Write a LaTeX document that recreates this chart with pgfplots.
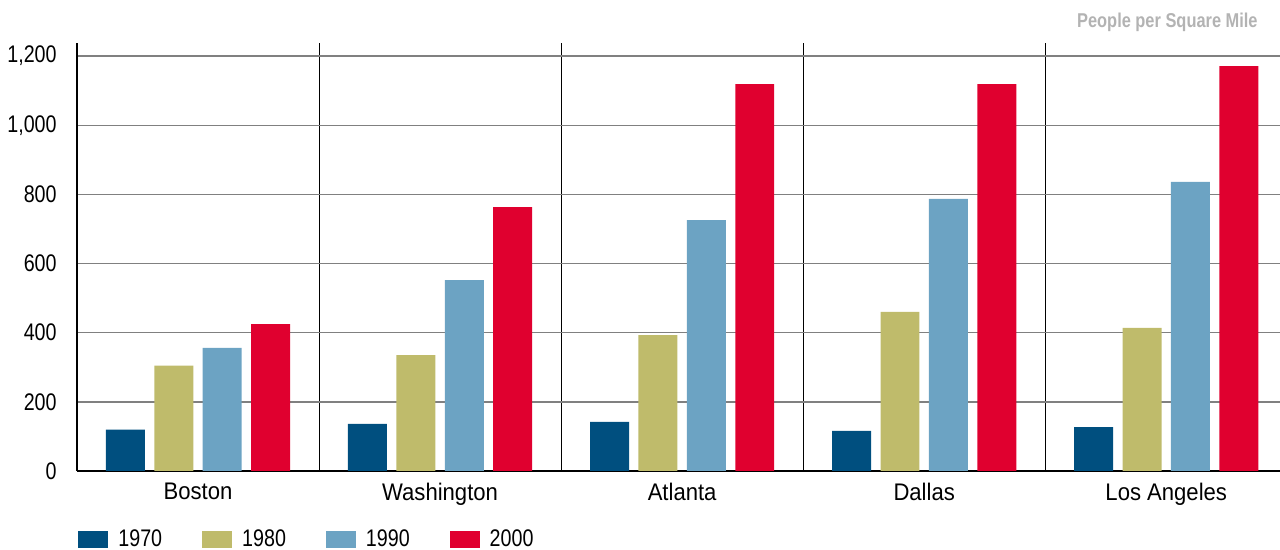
\documentclass[border=0pt]{standalone}
\usepackage{fontspec}
\setmainfont[FakeStretch=0.82]{Liberation Sans}
\newfontfamily\catfont[FakeStretch=0.92]{Liberation Sans}
\usepackage{pgfplots}
\usepackage{pgfplotstable}
\pgfplotsset{compat=1.18}

\definecolor{c1970}{HTML}{004F7F}
\definecolor{c1980}{HTML}{BFBB6B}
\definecolor{c1990}{HTML}{6CA3C3}
\definecolor{c2000}{HTML}{E0002F}
\definecolor{titlegray}{HTML}{B3B3B3}
\definecolor{gridgray}{HTML}{808080}

% population density, people per square mile
\pgfplotstableread{
x y1970 y1980 y1990 y2000
0 120 305 356 425
1 136 335 552 763
2 142 393 726 1119
3 116 460 787 1119
4 127 414 836 1171
}\densitytable

\begin{document}
\begin{tikzpicture}
	\begin{axis}[
		scale only axis,
		width=601.5pt, height=214pt,
		xmin=-0.5, xmax=4.47,
		ymin=0, ymax=1238,
		clip=false,
		axis x line*=bottom, axis y line*=left,
		axis line style={-, black, line width=1pt},
		xtick={0,...,4},
		xticklabels={Boston,Washington,Atlanta,Dallas,Los Angeles},
		minor xtick={0.5,1.5,2.5,3.5},
		xminorgrids,
		minor grid style={black, line width=0.5pt},
		ytick={0,200,...,1200},
		ymajorgrids,
		major grid style={gridgray, line width=0.65pt},
		major tick length=0pt, minor tick length=0pt,
		/pgf/number format/assume math mode=true,
		/pgf/number format/1000 sep={,},
		tick label style={font=\fontsize{12}{14}\selectfont, inner sep=0pt},
		yticklabel style={anchor=east, xshift=-10pt},
		xticklabel style={anchor=north, yshift=-6pt, font=\catfont\fontsize{12}{14}\selectfont},
		legend columns=-1,
		legend image code/.code={\draw[#1,/tikz/.cd,draw=none] (0pt,-4.25pt) rectangle (15pt,4.25pt);},
		legend style={at={(0,0)}, anchor=north west, yshift=-27pt, xshift=0.5pt,
			draw=none, fill=none, inner sep=0pt,
			font=\fontsize{12}{14}\selectfont,
			/tikz/every odd column/.append style={column sep=3pt},
			/tikz/every even column/.append style={column sep=18pt}},
		]
		\addplot[ybar, bar width=0.161, bar shift=-0.3, fill=c1970, draw=none] table[x=x, y=y1970] {\densitytable};
		\addlegendentry{1970}
		\addplot[ybar, bar width=0.161, bar shift=-0.1, fill=c1980, draw=none] table[x=x, y=y1980] {\densitytable};
		\addlegendentry{1980}
		\addplot[ybar, bar width=0.161, bar shift=0.1, fill=c1990, draw=none] table[x=x, y=y1990] {\densitytable};
		\addlegendentry{1990}
		\addplot[ybar, bar width=0.161, bar shift=0.3, fill=c2000, draw=none] table[x=x, y=y2000] {\densitytable};
		\addlegendentry{2000}

		\node[anchor=east, text=titlegray, inner sep=0pt,
			font=\bfseries\fontsize{10}{12}\selectfont,
			xshift=-11pt, yshift=10.5pt] at (rel axis cs:1,1) {People per Square Mile};
		\coordinate (sw) at (rel axis cs:0,0);
		\coordinate (ne) at (rel axis cs:1,1);
	\end{axis}
	\pgfresetboundingbox
	\path ([xshift=-38.5pt, yshift=-39.5pt]sw) rectangle ([yshift=21.5pt]ne);
\end{tikzpicture}
\end{document}
